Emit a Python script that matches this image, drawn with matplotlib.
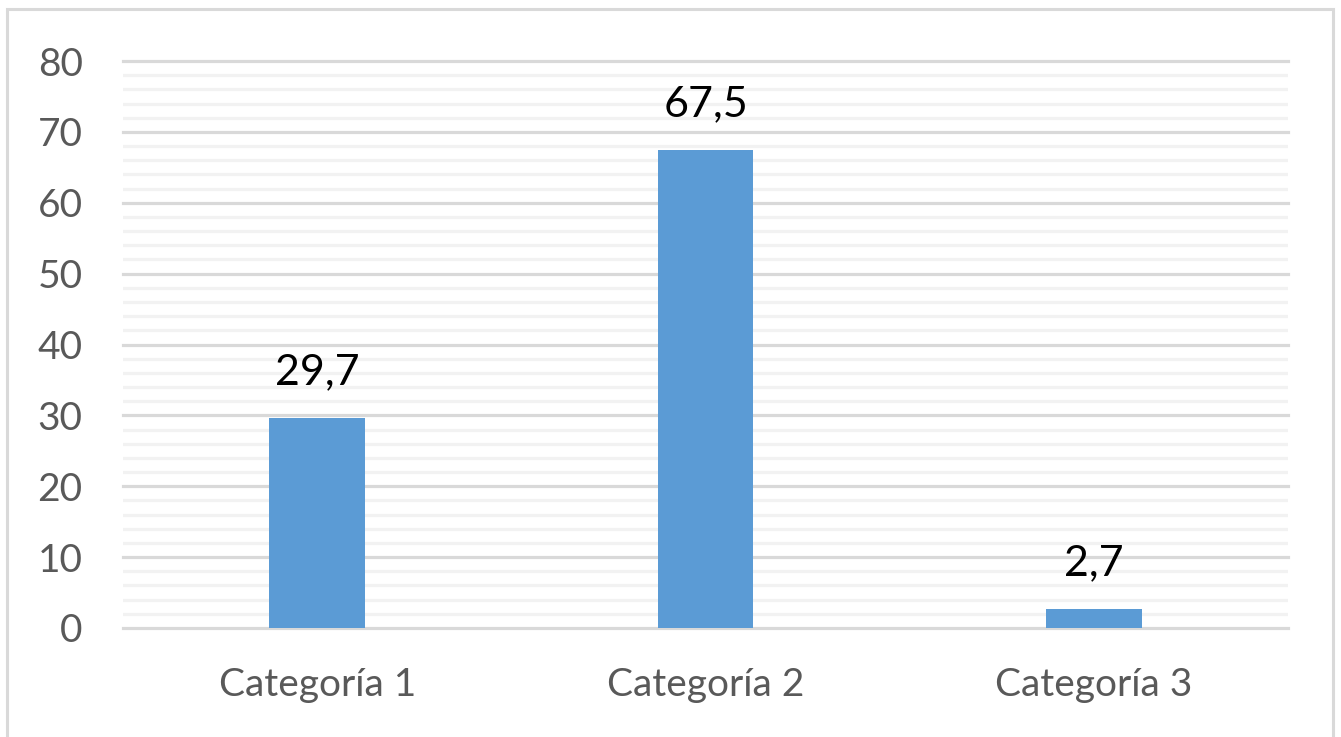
import matplotlib
matplotlib.use("Agg")
import matplotlib.pyplot as plt
from matplotlib.patches import Rectangle
from matplotlib.ticker import MultipleLocator

categories = ["Categoría 1", "Categoría 2", "Categoría 3"]
values = [29.7, 67.5, 2.7]
value_labels = ["29,7", "67,5", "2,7"]
y_ticks = [0, 10, 20, 30, 40, 50, 60, 70, 80]

plt.rcParams["font.family"] = ["Lato", "DejaVu Sans"]

W, H = 1341, 737
fig = plt.figure(figsize=(W / 100, H / 100), dpi=100)
fig.patch.set_facecolor("white")

# chart area border
fig.add_artist(Rectangle((7 / W, -0.01), (1333 - 7) / W, 1 - 9 / H + 0.01,
                         transform=fig.transFigure, fill=False,
                         edgecolor="#d9d9d9", linewidth=2.2))

ax = fig.add_axes([123 / W, 1 - 628 / H, (1288 - 123) / W, (628 - 61) / H])
x = range(len(categories))
ax.bar(x, values, width=0.247, color="#5b9bd5", zorder=3)

ax.set_xlim(-0.5, 2.5)
ax.set_ylim(0, 80)
ax.set_yticks(y_ticks)
ax.set_yticklabels([str(t) for t in y_ticks])
ax.yaxis.set_minor_locator(MultipleLocator(2))
ax.grid(axis="y", which="major", color="#d9d9d9", linewidth=2.3, zorder=1)
ax.grid(axis="y", which="minor", color="#f2f2f2", linewidth=2.3, zorder=0)
ax.set_axisbelow(True)
for line in ax.get_ygridlines():
    line.set_clip_on(False)
for s in ax.spines.values():
    s.set_visible(False)
ax.tick_params(axis="both", which="both", length=0)
ax.tick_params(axis="y", labelsize=28, labelcolor="#595959", pad=29)
ax.tick_params(axis="x", labelsize=28, labelcolor="#595959", pad=28)
ax.set_xticks(list(x))
ax.set_xticklabels(categories)

for xi, v, t in zip(x, values, value_labels):
    ax.annotate(t, (xi, v), xytext=(0, 24), textcoords="offset points",
                ha="center", va="baseline", fontsize=31, color="black")

fig.savefig("out.png", dpi=100, facecolor="white")
